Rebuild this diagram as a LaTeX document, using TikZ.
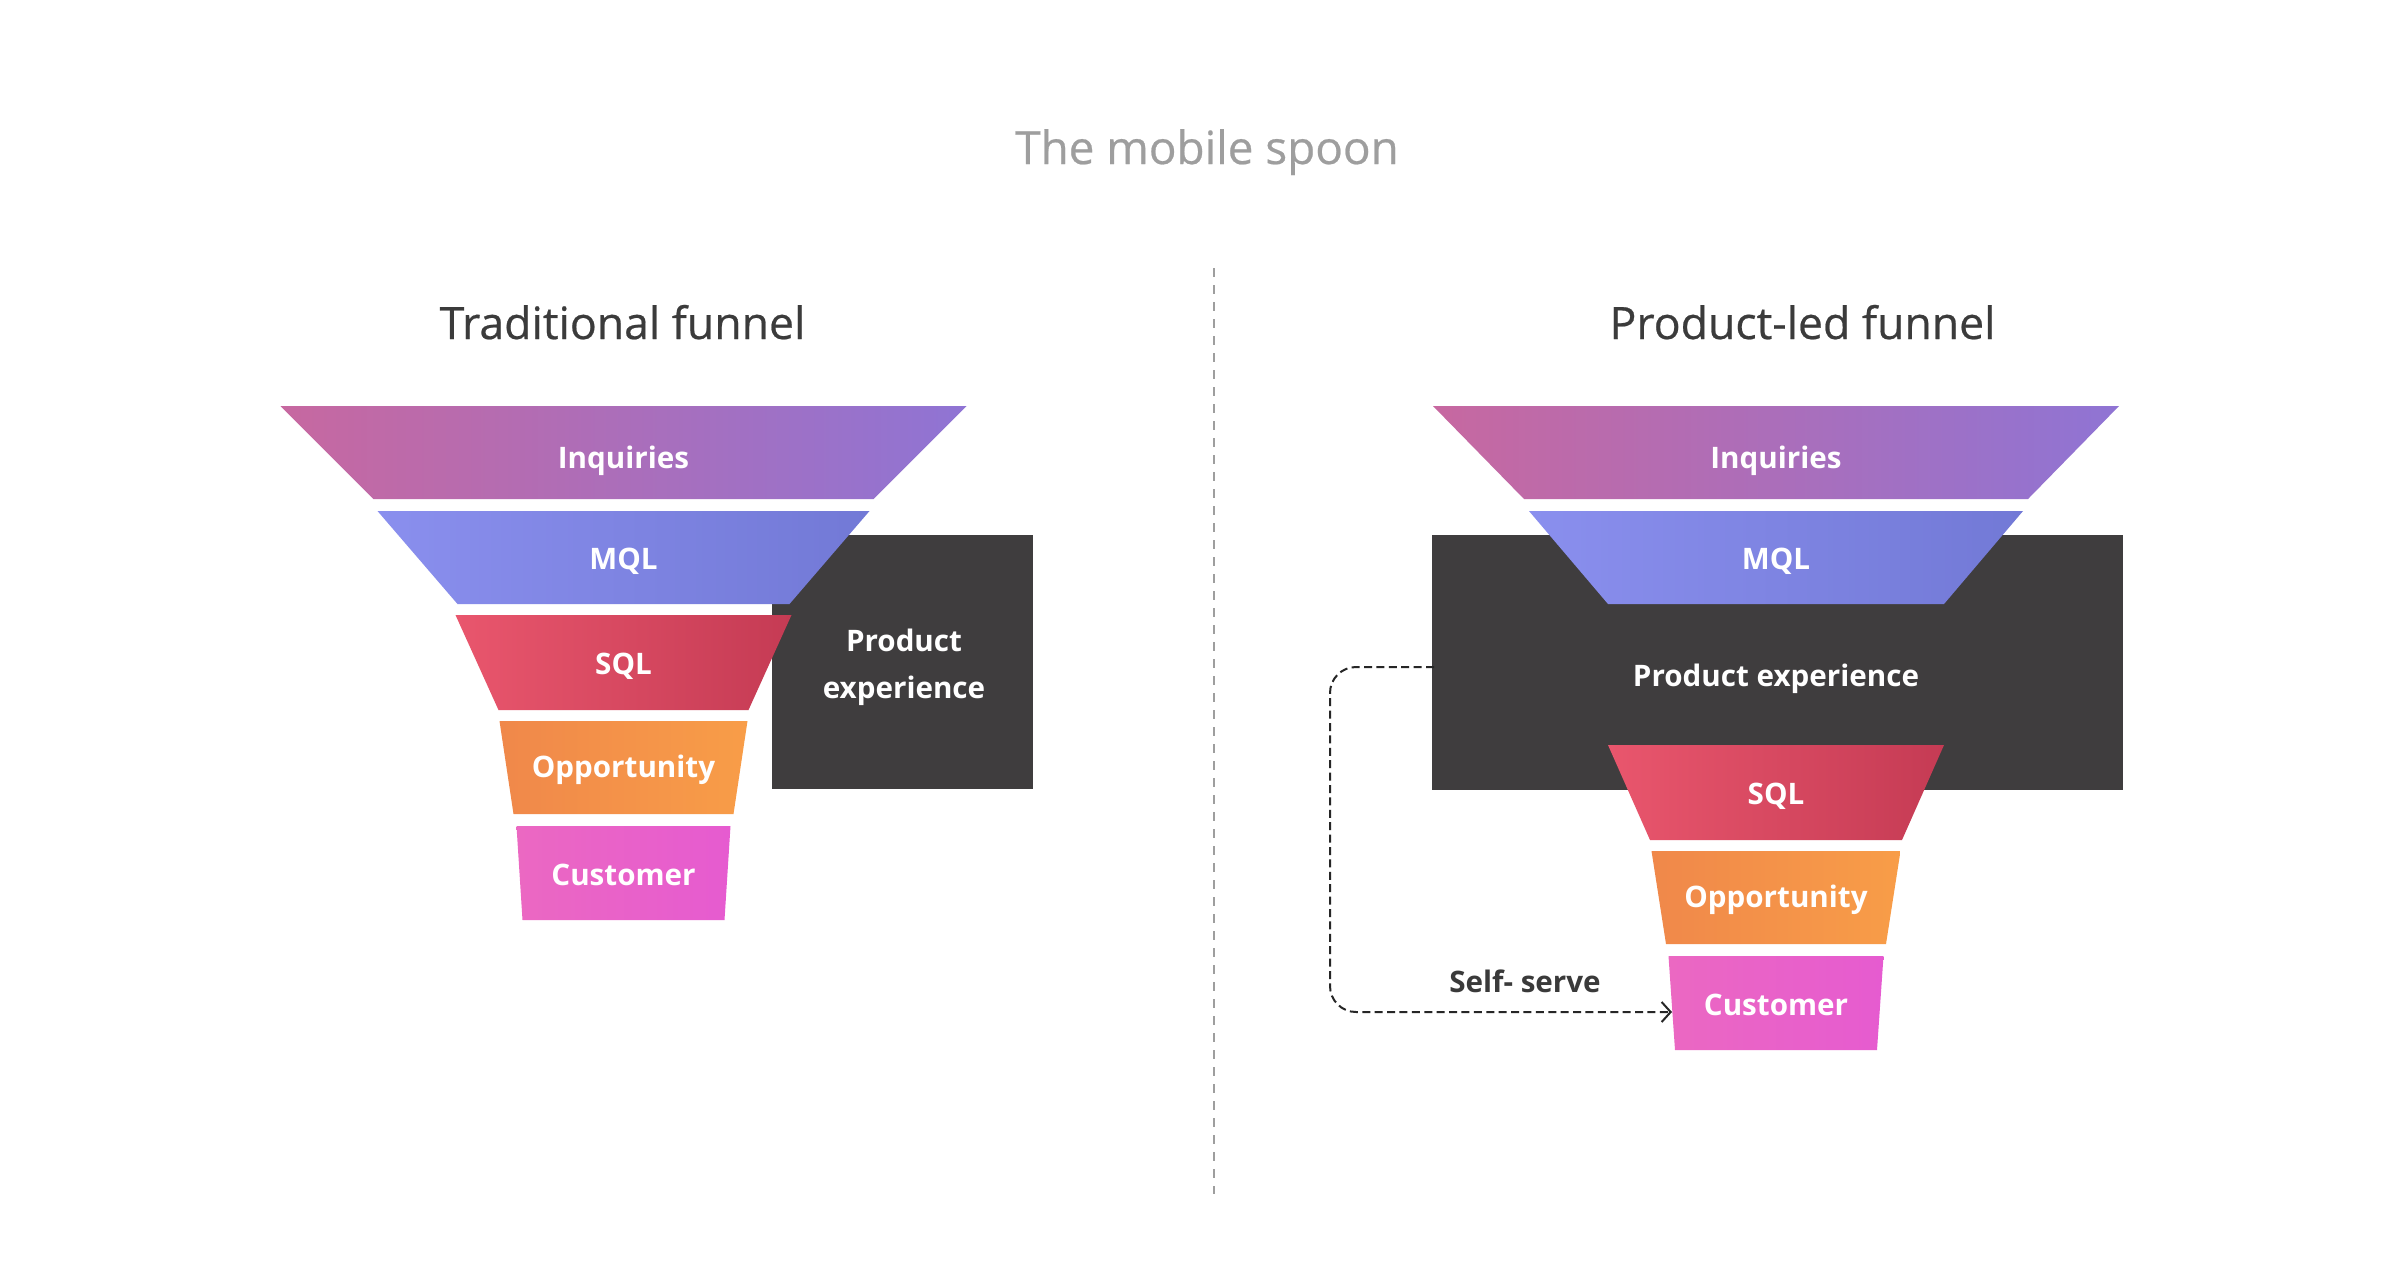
\documentclass[tikz,border=0pt]{standalone}
\usepackage{fontspec}
\setmainfont{Open Sans}
\newfontfamily\ttlfont{Open Sans}[FakeBold=0.5]
\usetikzlibrary{arrows.meta}
\definecolor{inqL}{HTML}{C768A0}
\definecolor{inqR}{HTML}{8F74D4}
\definecolor{mqlL}{HTML}{8A8FEE}
\definecolor{mqlR}{HTML}{7279D6}
\definecolor{sqlL}{HTML}{E9566D}
\definecolor{sqlR}{HTML}{C53B54}
\definecolor{oppL}{HTML}{F0884A}
\definecolor{oppR}{HTML}{F89D48}
\definecolor{cusL}{HTML}{EB68C2}
\definecolor{cusR}{HTML}{E65BD0}
\definecolor{boxgray}{HTML}{3F3D3E}
\definecolor{headgray}{HTML}{3B3B3B}
\definecolor{lightgray}{HTML}{9E9E9E}
\definecolor{darktext}{HTML}{3A3A3A}
% name, cx, ytop, half-width top, ybot, half-width bottom, colour left, colour right, label
\newcommand\fLayer[9]{%
  \path[left color=#7, right color=#8]
    ({#2-#4},{#3}) -- ({#2+#4},{#3}) -- ({#2+#6},{#5}) -- ({#2-#6},{#5}) -- cycle;
  \node[lbl] (#1) at ({#2},{(#3+#5)/2+\lbloff}) {#9};
}
\newcommand\lbloff{12}
\begin{document}
\begin{tikzpicture}[x=0.5pt,y=-0.5pt,
  lbl/.style={text=white,font=\fontsize{14.8}{17}\selectfont\bfseries,anchor=base,inner sep=0pt},
  ttl/.style={text=headgray,font=\ttlfont\fontsize{22.3}{26}\selectfont,anchor=base,inner sep=0pt},
  pebox/.style={fill=boxgray,draw=none,inner sep=0pt,rectangle},
  divider/.style={draw=lightgray,line width=1pt,dash pattern=on 4.5pt off 4pt},
  selfserve/.style={draw=black!85,line width=1pt,dash pattern=on 4pt off 2.2pt,rounded corners=13pt,-{Straight Barb[length=4.5pt,width=10pt,line width=1pt]}}]
\fill[white] (0,0) rectangle (2400,1266);
\useasboundingbox (0,0) rectangle (2400,1266);

% header
\node[anchor=base,inner sep=0pt,text=lightgray,font=\ttlfont\fontsize{22.9}{27}\selectfont] (brand) at (1207,164) {The mobile spoon};
\node[ttl] (t1) at (622.5,339) {Traditional funnel};
\node[ttl] (t2) at (1802.5,339) {Product-led funnel};

% divider
\coordinate (dtop) at (1214,268);
\coordinate (dbot) at (1214,1194);
\draw[divider] (dtop) -- (dbot);

% ---- left: traditional funnel
\node[pebox,minimum width=130.5pt,minimum height=127pt] (pe1) at (902.5,662) {};
\renewcommand\lbloff{16}
\fLayer{inq1}{623.5}{406}{343}{499}{250}{inqL}{inqR}{Inquiries}
\renewcommand\lbloff{12}
\fLayer{mql1}{623.5}{511}{246}{604}{166}{mqlL}{mqlR}{MQL}
\fLayer{sql1}{623.5}{615}{168}{710}{125}{sqlL}{sqlR}{SQL}
\renewcommand\lbloff{10}
\fLayer{opp1}{623.5}{721}{124}{814}{110}{oppL}{oppR}{Opportunity}
\renewcommand\lbloff{12}
\fLayer{cus1}{623.5}{826}{107}{920}{101}{cusL}{cusR}{Customer}
\node[text=white,font=\fontsize{14.8}{23.5}\selectfont\bfseries,align=center,inner sep=0pt] (pe1t) at (904,667) {Product\\experience};

% ---- right: product-led funnel
\node[pebox,minimum width=345.5pt,minimum height=127.5pt] (pe2) at (1777.5,662.5) {};
\renewcommand\lbloff{16}
\fLayer{inq2}{1776}{406}{343}{499}{252}{inqL}{inqR}{Inquiries}
\renewcommand\lbloff{12}
\fLayer{mql2}{1776}{511}{247}{604}{168}{mqlL}{mqlR}{MQL}
\fLayer{sql2}{1776}{745}{168}{840}{126}{sqlL}{sqlR}{SQL}
\renewcommand\lbloff{10}
\fLayer{opp2}{1776}{851}{124.5}{944}{110}{oppL}{oppR}{Opportunity}
\renewcommand\lbloff{12}
\fLayer{cus2}{1776}{956}{107.5}{1050}{101}{cusL}{cusR}{Customer}
\node[lbl] (pe2t) at (1776,686) {Product experience};

% self-serve connector
\coordinate (ssStart) at (1434,667);
\coordinate (ssEnd) at (1672,1012);
\draw[selfserve] (ssStart) -- (1330,667) -- (1330,1012) -- (ssEnd);
\node[anchor=base,inner sep=0pt,text=darktext,font=\fontsize{14.8}{17}\selectfont\bfseries] (ss) at (1525,992) {Self- serve};
\end{tikzpicture}
\end{document}
